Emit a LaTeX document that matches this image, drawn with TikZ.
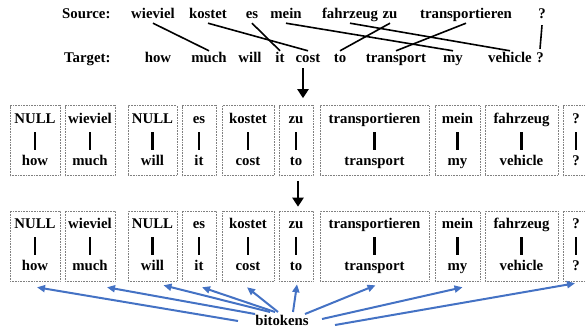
\documentclass[tikz,border=0pt]{standalone}
\usepackage{fontspec}
\setmainfont{Liberation Serif}
\usetikzlibrary{arrows.meta}
\definecolor{bitblue}{RGB}{68,114,196}
\begin{document}
\begin{tikzpicture}[x=1pt,y=-1pt,
  word/.style={font=\fontsize{14.8}{16}\selectfont\bfseries, inner sep=1pt, text height=10pt, text depth=3pt, anchor=base},
  lbl/.style={word, anchor=base west},
  align/.style={line width=1.6pt},
  wbox/.style={draw=gray, densely dotted, line width=0.6pt, minimum height=70pt, inner sep=0pt},
  bar/.style={line width=2.4pt, shorten <=5pt, shorten >=4pt},
  bigarrow/.style={line width=2.8pt, -{Triangle[length=9pt,width=11pt]}},
  bitarrow/.style={bitblue, line width=2pt, -{Triangle[length=8pt,width=7pt]}}]
\useasboundingbox (0,0) rectangle (585,329);
% Source / Target rows
\node[lbl] (srclbl) at (61,19) {Source:};
\node[lbl] (tgtlbl) at (63,62) {Target:};
\foreach \n/\x/\t in {swieviel/153/wieviel, skostet/208/kostet, ses/252/es, smein/286/mein, sfahrzeug/350/fahrzeug, szu/390/zu, stransportieren/466/transportieren, sq/542/?}
  \node[word] (\n) at (\x,19) {\t};
\foreach \n/\x/\t in {thow/158/how, tmuch/209/much, twill/250/will, tit/280/it, tcost/308/cost, tto/340/to, ttransport/396/transport, tmy/453/my, tvehicle/510/vehicle, tq/540/?}
  \node[word] (\n) at (\x,62) {\t};
\draw[align] (swieviel.south) -- (tmuch.north);
\draw[align] (skostet.south) -- (tcost.north);
\draw[align] (ses.south) -- (tit.north);
\draw[align] (smein.south) -- (tmy.north);
\draw[align] (sfahrzeug.south) -- (tvehicle.north);
\draw[align] (szu.south) -- (tto.north);
\draw[align] (stransportieren.south) -- (ttransport.north);
\draw[align] ([yshift=-2pt]sq.south) -- ([yshift=2pt]tq.north);
% bitoken boxes, two rows
\foreach \r/\cy/\tb/\bb in {a/140.5/123/165, b/246/228/270} {
  \foreach \i/\cx/\w/\s/\t in {1/35/50/NULL/how, 2/90/50/wieviel/much, 3/152.5/49/NULL/will, 4/199/34/es/it, 5/248/52/kostet/cost, 6/296/34/zu/to, 7/374.5/109/transportieren/transport, 8/457.5/45/mein/my, 9/521.5/73/fahrzeug/vehicle, 10/576/26/?/?} {
    \node[wbox, minimum width=\w pt] (\r\i) at (\cx,\cy) {};
    \node[word] (\r\i s) at (\cx,\tb) {\s};
    \node[word] (\r\i t) at (\cx,\bb) {\t};
    \draw[bar] (\r\i s.south) -- (\r\i t.north);
  }
}
% big arrows
\draw[bigarrow, shorten <=2pt, shorten >=7pt] ([xshift=-5pt]tcost.south) -- ([xshift=-5pt]tcost.south |- a6.north);
\draw[bigarrow, shorten <=5pt, shorten >=4pt] ([xshift=2pt]a6.south) -- ([xshift=2pt]b6.north);
% bitokens
\node[word] (bit) at (282,325) {bitokens};
\draw[bitarrow] ([shift={(-44,-4)}]bit.base) -- ([shift={(2,6)}]b1.south);
\draw[bitarrow] ([shift={(-27,-11)}]bit.base) -- ([shift={(17,6)}]b2.south);
\draw[bitarrow] ([shift={(-12,-13)}]bit.base) -- ([shift={(11,4)}]b3.south);
\draw[bitarrow] ([shift={(-7,-13)}]bit.base) -- ([shift={(3,6)}]b4.south);
\draw[bitarrow] ([shift={(-4,-13)}]bit.base) -- ([shift={(-1,6)}]b5.south);
\draw[bitarrow] ([shift={(11,-13)}]bit.base) -- ([shift={(1,3)}]b6.south);
\draw[bitarrow] ([shift={(23,-11)}]bit.base) -- ([shift={(1,4)}]b7.south);
\draw[bitarrow] ([shift={(40,-6)}]bit.base) -- ([shift={(5,6)}]b8.south);
\draw[bitarrow] ([shift={(53,0)}]bit.base) -- ([shift={(-1,2)}]b10.south);
\end{tikzpicture}
\end{document}
